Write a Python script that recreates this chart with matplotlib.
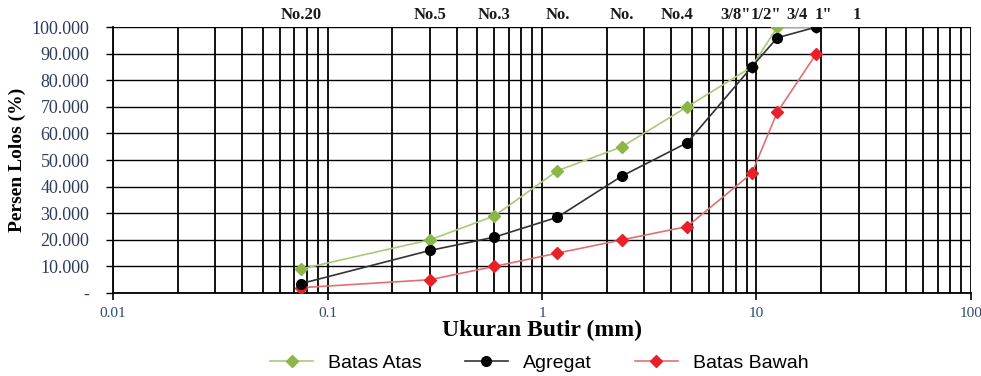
import matplotlib.pyplot as plt
from matplotlib.ticker import LogLocator, FixedLocator, FixedFormatter

# ukuran saringan (mm)
sieve_mm = [0.075, 0.3, 0.6, 1.18, 2.36, 4.75, 9.5, 12.5, 19.0]
batas_atas = [9, 20, 29, 46, 55, 70, 85, 100, 100]
agregat = [3.5, 16, 21, 28.5, 44, 56.5, 85, 96, 100]
batas_bawah = [2, 5, 10, 15, 20, 25, 45, 68, 90]

# label saringan di atas grafik
top_labels = ["No.20", "No.5", "No.3", "No.", "No.", "No.4", '3/8"', '1/2"', "3/4", '1"', "1"]
top_pos = [0.075, 0.3, 0.6, 1.18, 2.36, 4.26, 8.0, 11.1, 15.4, 20.6, 29.4]

y_ticks = [0, 10, 20, 30, 40, 50, 60, 70, 80, 90, 100]
y_labels = ["-"] + [f"{v:.3f}" for v in y_ticks[1:]]

serif = "Liberation Serif"
sans = "Liberation Sans"

fig = plt.figure(figsize=(9.81, 3.76), dpi=100)
ax = fig.add_axes([0.1152, 0.2207, 0.8746, 0.7073])

ax.plot(sieve_mm, batas_atas, color="#A9C97A", lw=1.2, marker="D", ms=6,
        mfc="#8DB648", mec="#8DB648", label="Batas Atas", zorder=3)
ax.plot(sieve_mm, agregat, color="#333333", lw=1.2, marker="o", ms=7,
        mfc="black", mec="black", label="Agregat", zorder=4)
ax.plot(sieve_mm, batas_bawah, color="#E07070", lw=1.2, marker="D", ms=6,
        mfc="#E8202A", mec="#E8202A", label="Batas Bawah", zorder=3)

ax.set_xscale("log")
ax.set_xlim(0.01, 100)
ax.set_ylim(0, 100)

ax.xaxis.set_major_locator(FixedLocator([0.01, 0.1, 1, 10, 100]))
ax.xaxis.set_major_formatter(FixedFormatter(["0.01", "0.1", "1", "10", "100"]))
ax.xaxis.set_minor_locator(LogLocator(base=10, subs=range(2, 10), numticks=20))
ax.yaxis.set_major_locator(FixedLocator(y_ticks))
ax.yaxis.set_major_formatter(FixedFormatter(y_labels))

ax.grid(True, which="both", axis="x", color="black", lw=1.3)
ax.grid(True, which="major", axis="y", color="black", lw=1.0)
ax.set_axisbelow(True)

for s in ["top", "right"]:
    ax.spines[s].set_visible(False)
for s in ["left", "bottom"]:
    ax.spines[s].set_linewidth(1.3)

ax.tick_params(axis="x", which="major", length=5, width=1.2, colors="black",
               labelcolor="#2E4A6E", labelsize=11, pad=5)
ax.tick_params(axis="x", which="minor", length=0)
ax.tick_params(axis="y", length=5, width=1.0, labelcolor="#2E3A5E", labelsize=13, pad=12)
for lb in ax.get_xticklabels() + ax.get_yticklabels():
    lb.set_family(serif)

ax.set_xlabel("Ukuran Butir (mm)", family=serif, fontsize=17, fontweight="bold", labelpad=0)
ax.set_ylabel("Persen Lolos (%)", family=serif, fontsize=14, fontweight="bold", labelpad=4)

for lab, pos in zip(top_labels, top_pos):
    ax.text(pos, 101.5, lab, ha="center", va="bottom", family=serif,
            fontsize=12, fontweight="bold", color="#1a1a1a")

fig.legend(loc="center", bbox_to_anchor=(0.55, 0.035), ncol=3, frameon=False,
           prop={"family": sans, "size": 14}, handlelength=2.2, columnspacing=2.2)

fig.savefig("out.png", dpi=100)
